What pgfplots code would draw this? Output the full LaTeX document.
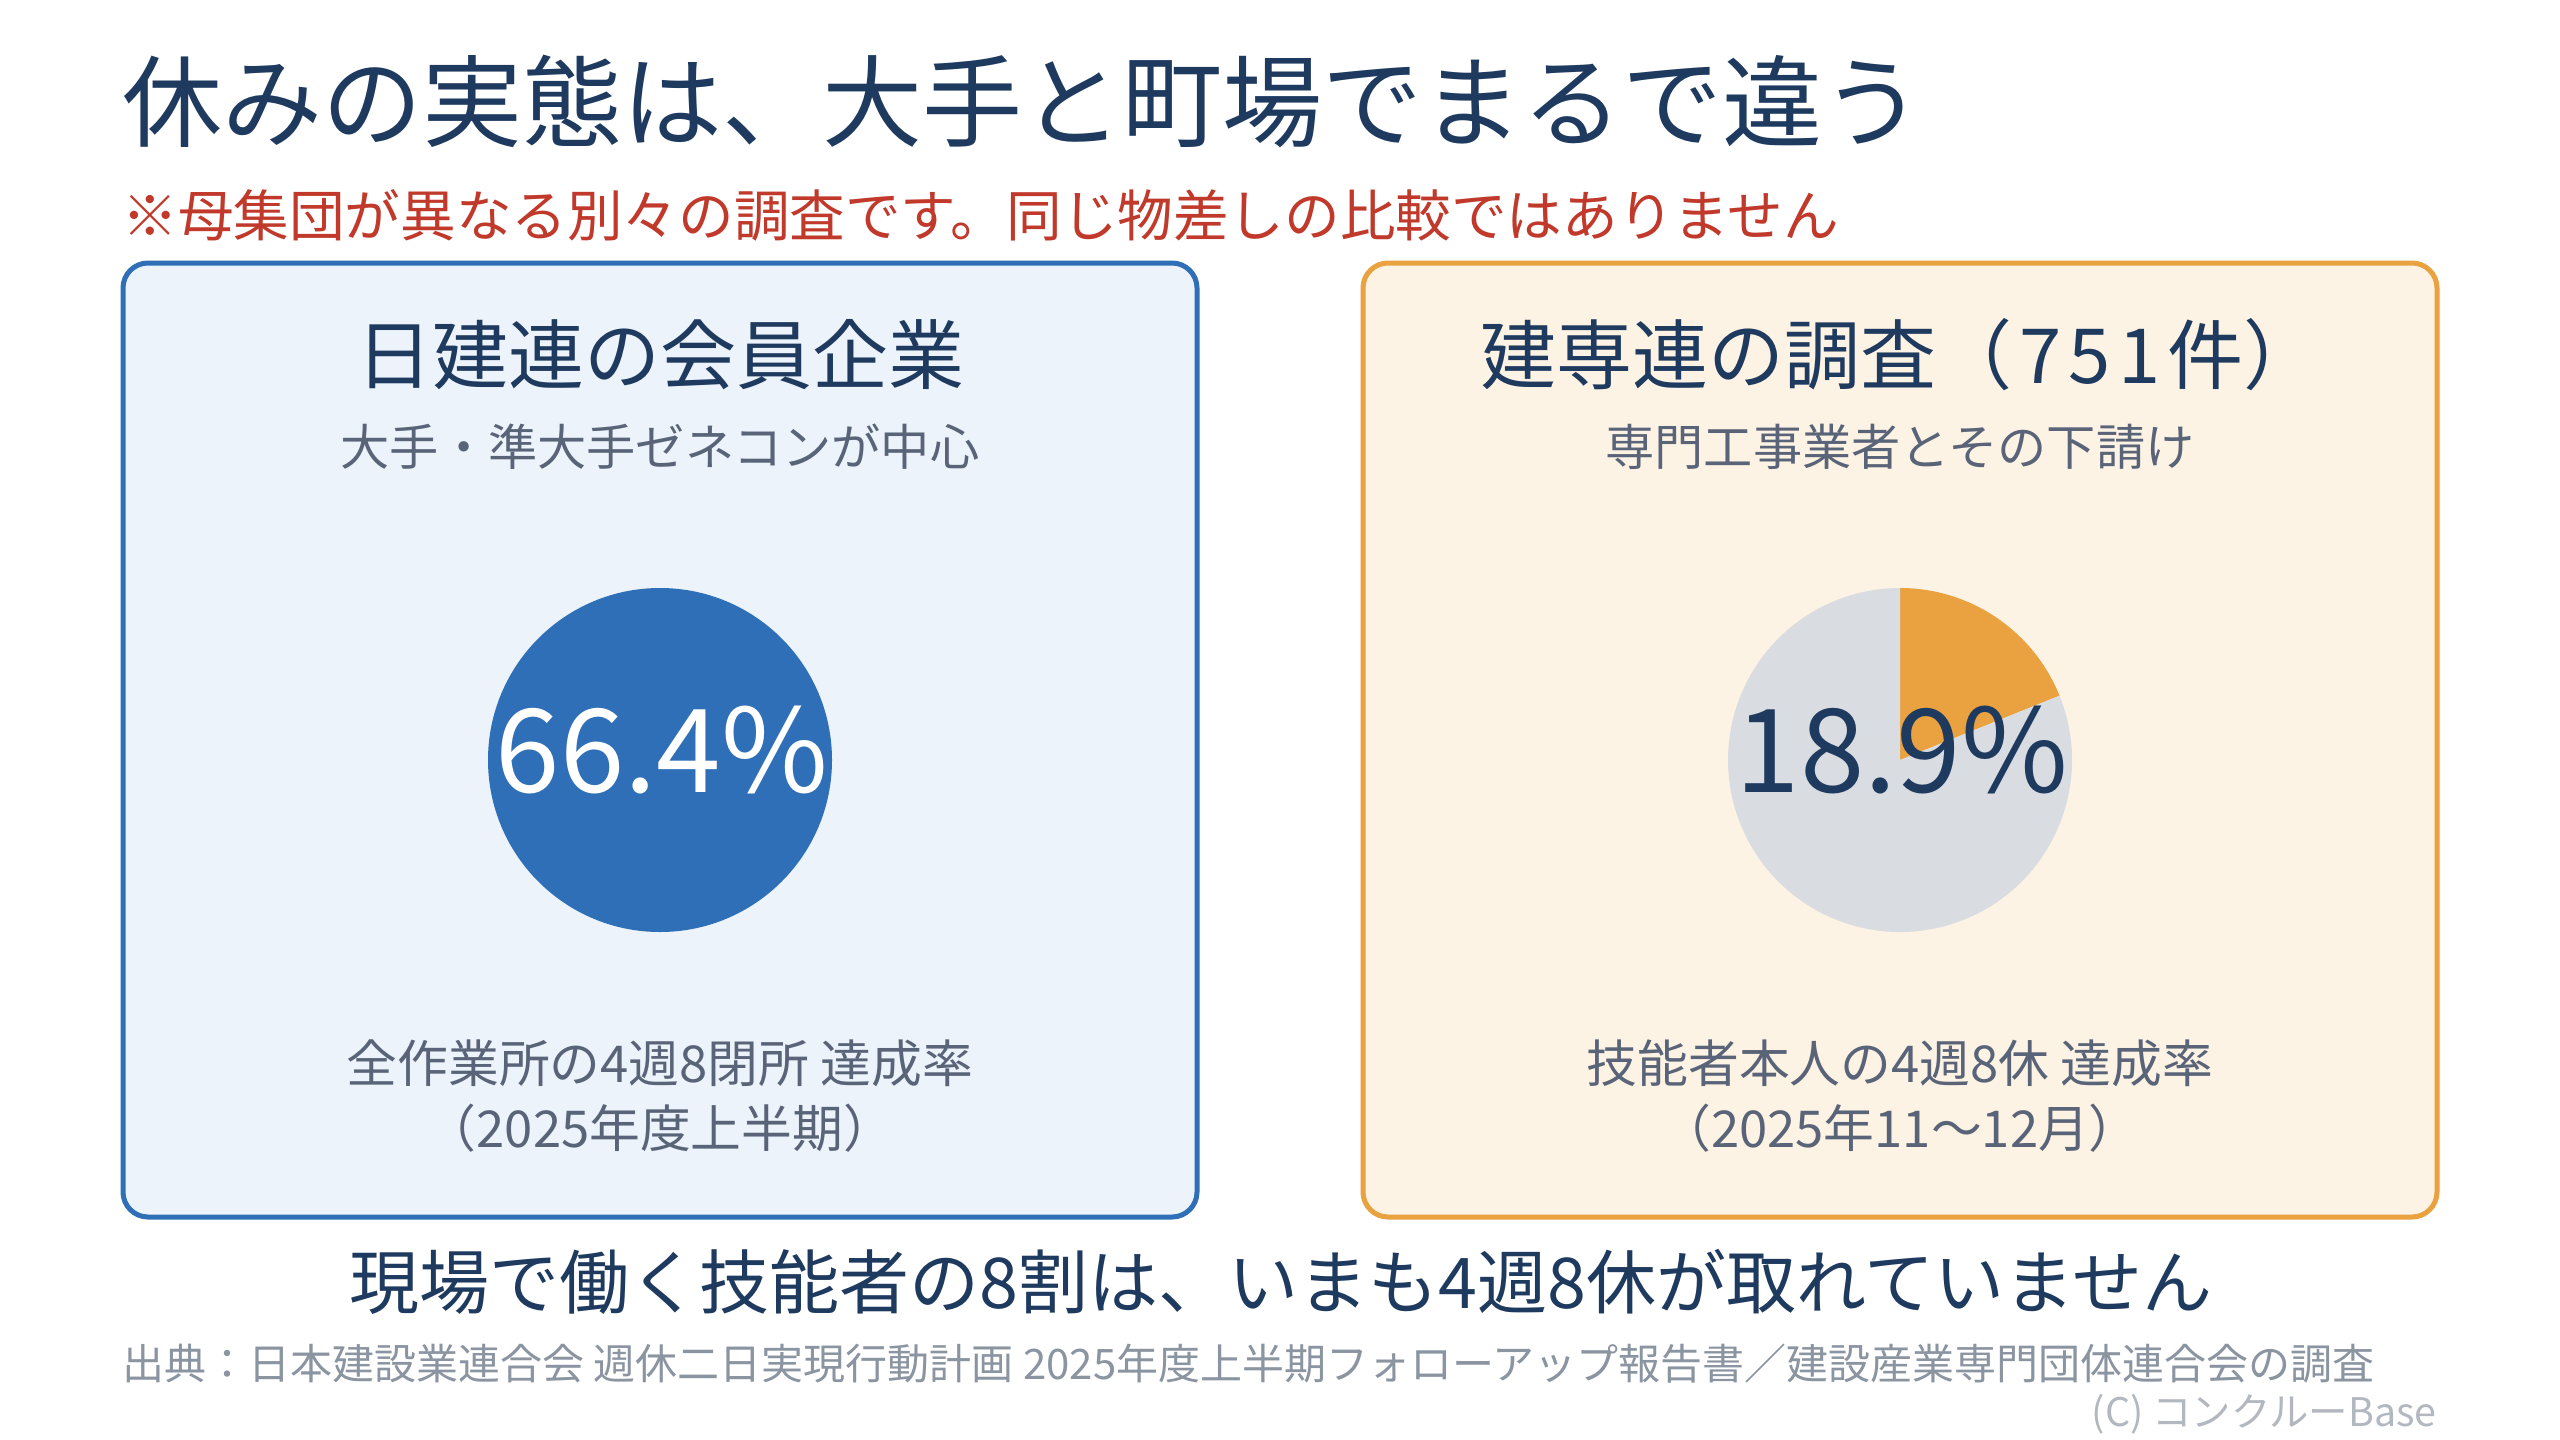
\documentclass[border=0pt]{standalone}
\usepackage{pgfplots}
\pgfplotsset{compat=1.18}
\usepackage{fontspec}
\setmainfont{Noto Sans CJK JP}

\definecolor{navy}{HTML}{1F3A5F}
\definecolor{warnred}{HTML}{C0392B}
\definecolor{slate}{HTML}{5A6478}
\definecolor{srcgray}{HTML}{8B94A1}
\definecolor{copygray}{HTML}{B3B8C0}
\definecolor{boxblue}{HTML}{2F6FB7}
\definecolor{fillblue}{HTML}{ECF3FB}
\definecolor{boxorange}{HTML}{E9A23F}
\definecolor{fillorange}{HTML}{FDF3E5}
\definecolor{piegray}{HTML}{D9DCE1}

% slices as value/colour, drawn clockwise from 12 o'clock
\def\leftslices{66.4/boxblue}
\def\rightslices{18.9/boxorange, 81.1/piegray}

\newcommand\drawpie[3]{%
  \gdef\pietotal{0}%
  \foreach \v/\c in #3{\pgfmathparse{\pietotal+\v}\xdef\pietotal{\pgfmathresult}}%
  \gdef\pieangle{90}%
  \foreach \v/\c in #3{%
    \pgfmathparse{\pieangle-360*(\v/\pietotal)}\xdef\pieend{\pgfmathresult}%
    \edef\temp{\noexpand\fill[\c] (axis cs:#1,#2) -- ++(\pieangle:86pt)
      arc[start angle=\pieangle, end angle=\pieend, radius=86pt] -- cycle;}%
    \temp
    \xdef\pieangle{\pieend}%
  }%
}

\newcommand\fs[1]{\fontsize{#1pt}{1.2\dimexpr#1pt\relax}\selectfont}

\begin{document}
\begin{tikzpicture}
\path[use as bounding box, fill=white] (0,0) rectangle (1280pt,720pt);
\begin{axis}[
  at={(0,0)}, anchor=south west,
  width=1280pt, height=720pt, scale only axis,
  xmin=0, xmax=2560, ymin=0, ymax=1440, y dir=reverse,
  hide axis, clip=false]

% title and warning
\node[anchor=west, inner sep=0, text=navy, font=\fs{50}] at (axis cs:122,101)
  {休みの実態は、大手と町場でまるで違う};
\node[anchor=west, inner sep=0, text=warnred, font=\fs{27.8}] at (axis cs:122,215)
  {※母集団が異なる別々の調査です。同じ物差しの比較ではありません};

% panels
\draw[line width=2.5pt, draw=boxblue, fill=fillblue, rounded corners=12.5pt]
  (axis cs:123,263) rectangle (axis cs:1197,1217);
\draw[line width=2.5pt, draw=boxorange, fill=fillorange, rounded corners=12.5pt]
  (axis cs:1363,263) rectangle (axis cs:2437,1217);

% panel headings
\node[inner sep=0, text=navy, font=\fs{38}] at (axis cs:660,355) {日建連の会員企業};
\node[inner sep=0, text=slate, font=\fs{24.6}] at (axis cs:660,447) {大手・準大手ゼネコンが中心};
\node[inner sep=0, text=navy, font=\fs{38}] at (axis cs:1900,355)
  {建専連の調査（\kern3.5pt7\kern3.5pt5\kern3.5pt1\kern3.5pt件）};
\node[inner sep=0, text=slate, font=\fs{24.6}] at (axis cs:1900,447) {専門工事業者とその下請け};

% pies
\drawpie{660}{760}{\leftslices}
\drawpie{1900}{760}{\rightslices}
\node[inner sep=0, text=white, font=\fs{58}] at (axis cs:662,750) {66.4\%};
\node[inner sep=0, text=navy, font=\fs{58}] at (axis cs:1902,750) {18.9\%};

% panel footers
\node[inner sep=0, text=slate, font=\fs{25.4}] at (axis cs:660,1063) {全作業所の4週8閉所 達成率};
\node[inner sep=0, text=slate, font=\fs{25.4}] at (axis cs:660,1128) {（2025年度上半期）};
\node[inner sep=0, text=slate, font=\fs{25.4}] at (axis cs:1900,1063) {技能者本人の4週8休 達成率};
\node[inner sep=0, text=slate, font=\fs{25.4}] at (axis cs:1900,1128) {（2025年11～12月）};

% conclusion and source
\node[inner sep=0, text=navy, font=\fs{35}] at (axis cs:1281,1282)
  {現場で働く技能者の8割は、いまも4週8休が取れていません};
\node[anchor=west, inner sep=0, text=srcgray, font=\fs{21}] at (axis cs:122,1364)
  {出典：日本建設業連合会 週休二日実現行動計画 2025年度上半期フォローアップ報告書／建設産業専門団体連合会の調査};
\node[anchor=east, inner sep=0, text=copygray, font=\fs{19.7}] at (axis cs:2437,1414)
  {(C) コンクルーBase};
\end{axis}
\end{tikzpicture}
\end{document}
